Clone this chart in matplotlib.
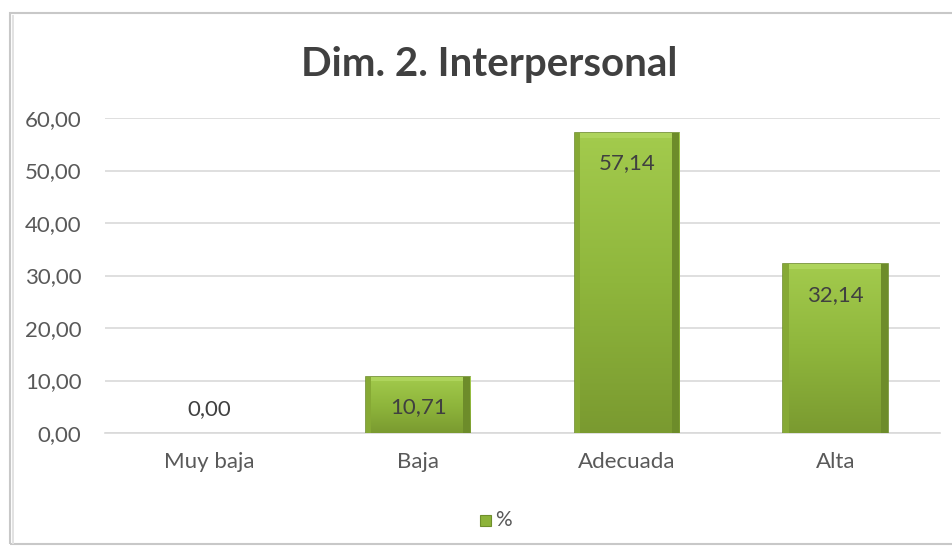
import numpy as np
import matplotlib.pyplot as plt
from matplotlib.patches import Rectangle
from matplotlib.colors import LinearSegmentedColormap

categorias = ['Muy baja', 'Baja', 'Adecuada', 'Alta']
porcentajes = [0.00, 10.71, 57.14, 32.14]
etiquetas = ['0,00', '10,71', '57,14', '32,14']
yticks = [0, 10, 20, 30, 40, 50, 60]
titulo = 'Dim. 2. Interpersonal'

plt.rcParams['font.family'] = ['Lato', 'DejaVu Sans']

fig = plt.figure(figsize=(9.53, 5.48), dpi=100)
W, H = 953, 548

# marco exterior del grafico
fig.patches.append(Rectangle((10 / W, 4 / H), 950 / W, 531 / H, transform=fig.transFigure,
                             fill=False, edgecolor='#c8c8c8', lw=1.5))
fig.patches.append(Rectangle((12 / W, 4 / H), 2 / W, 529 / H, transform=fig.transFigure,
                             color='#e2e2e2', lw=0))

ax = fig.add_axes([105 / W, 1 - 433 / H, 835 / W, 315 / H])
x = np.arange(len(categorias))
bars = ax.bar(x, porcentajes, width=0.5, color='#8db33a', edgecolor='#6f8f2c', lw=1.2, zorder=3)

# relleno degradado tipo bisel
cmap = LinearSegmentedColormap.from_list('verde', ['#7a9a30', '#8fb63c', '#a3cb4d'])
grad = np.linspace(0, 1, 256).reshape(-1, 1)
for b in bars:
    h = b.get_height()
    if h <= 0:
        b.set_visible(False)
        continue
    x0 = b.get_x()
    w = b.get_width()
    im = ax.imshow(grad, extent=[x0, x0 + w, 0, h], origin='lower', cmap=cmap,
                   aspect='auto', zorder=3.5)
    im.set_clip_path(b)
    # bisel superior claro y lados oscuros
    ax.add_patch(Rectangle((x0, h - 0.9), w, 0.9, color='#aed45c', lw=0, zorder=3.6))
    ax.add_patch(Rectangle((x0 + w * 0.93, 0), w * 0.07, h, color='#6d8c2a', lw=0, zorder=3.6))
    ax.add_patch(Rectangle((x0, 0), w * 0.05, h, color='#86a935', lw=0, zorder=3.6))

for xi, v, t in zip(x, porcentajes, etiquetas):
    if v > 0:
        ax.annotate(t, (xi, v), xytext=(0, -22), textcoords='offset points', ha='center',
                    va='center', fontsize=16, color='#404040', zorder=5)
    else:
        ax.annotate(t, (xi, v), xytext=(0, 17), textcoords='offset points', ha='center',
                    va='center', fontsize=16, color='#404040', zorder=5)

ax.set_xlim(-0.5, len(categorias) - 0.5)
ax.set_ylim(0, 60)
ax.set_yticks(yticks)
ax.set_yticklabels(['%d,00' % v for v in yticks])
ax.set_xticks(x)
ax.set_xticklabels(categorias)
ax.tick_params(axis='both', length=0, labelsize=16, colors='#595959')
ax.tick_params(axis='y', pad=17)
ax.tick_params(axis='x', pad=14)
ax.yaxis.grid(True, color='#d9d9d9', lw=1.2, zorder=0)
ax.set_axisbelow(True)
for s in ['top', 'right', 'left']:
    ax.spines[s].set_visible(False)
ax.spines['bottom'].set_color('#d9d9d9')
ax.spines['bottom'].set_linewidth(1.2)

fig.text(489 / W, 1 - 65 / H, titulo, ha='center', va='center', fontsize=29,
         fontweight='bold', color='#404040')

# leyenda
fig.patches.append(Rectangle((480 / W, 1 - 526 / H), 11 / W, 11 / H, transform=fig.transFigure,
                             facecolor='#8db33a', edgecolor='#6f8f2c', lw=0.8))
fig.text(495 / W, 1 - 520 / H, '%', ha='left', va='center', fontsize=15, color='#595959')

fig.savefig('out.png', dpi=100)
